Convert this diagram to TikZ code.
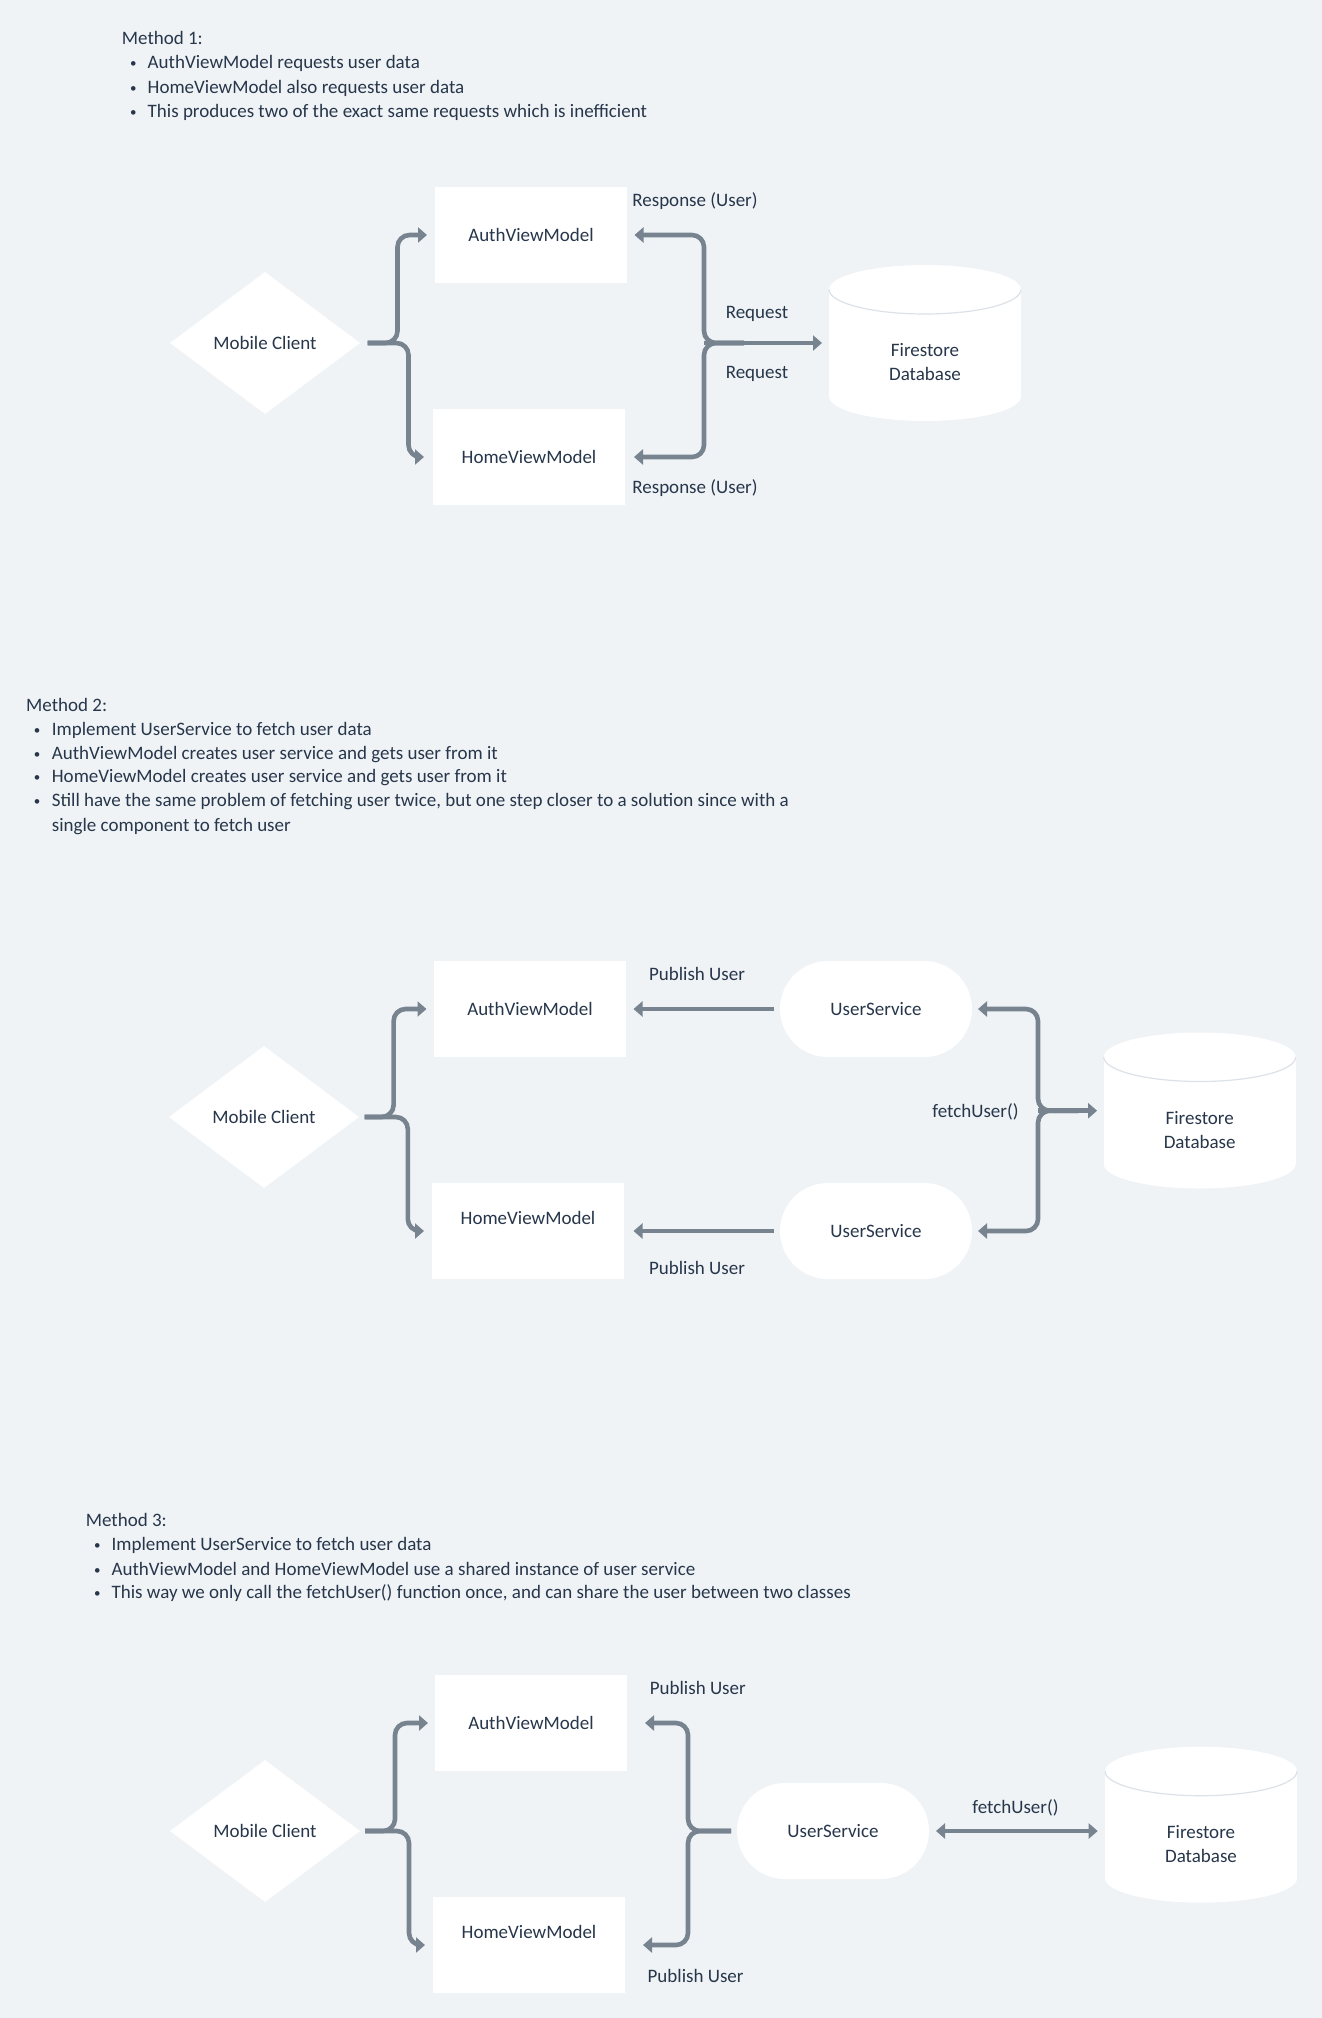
\documentclass[tikz,border=0pt]{standalone}
\usepackage{fontspec}
\setmainfont{Carlito}
\usetikzlibrary{arrows.meta,shapes.geometric,calc}
\definecolor{bgc}{HTML}{EFF3F6}
\definecolor{arrc}{HTML}{77838F}
\definecolor{txtc}{HTML}{27364A}
\definecolor{dbedge}{HTML}{DCE2E8}
\newcommand\dbcyl[1]{%
  \fill[white] ($(#1.north west)+(0,-24.5)$) rectangle ($(#1.south east)+(0,24.5)$);
  \fill[white] ($(#1.north)+(0,-24.5)$) ellipse[x radius=96, y radius=24.5];
  \fill[white] ($(#1.south)+(0,24.5)$) ellipse[x radius=96, y radius=24.5];
  \draw[dbedge, line width=1.2pt] ($(#1.north)+(-96,-24.5)$) arc[start angle=180, end angle=360, x radius=96, y radius=24.5];
}
\newcommand\bul{{\fontsize{13}{13}\selectfont\textbullet}}
\begin{document}
\begin{tikzpicture}[x=1pt,y=1pt,
  every node/.style={font=\fontsize{19}{24.3}\selectfont, text=txtc},
  conn/.style={draw=arrc, line width=4.6pt, rounded corners=12pt},
  arr/.style={conn, -{Triangle[length=9pt,width=15pt]}},
  darr/.style={conn, {Triangle[length=9pt,width=15pt]}-{Triangle[length=9pt,width=15pt]}},
  box/.style={fill=white, minimum width=192pt, minimum height=96pt, inner sep=0pt, outer sep=0pt},
  svc/.style={box, rounded corners=47.9pt},
  dia/.style={shape=diamond, fill=white, minimum width=190pt, minimum height=142pt, inner sep=0pt, aspect=1.34, outer sep=0pt},
  dbnode/.style={minimum width=192pt, minimum height=156pt, inner sep=0pt, outer sep=0pt},
  lbl/.style={inner sep=0pt},
  txtline/.style={anchor=base west, inner sep=0pt},
  bline/.style={anchor=base west, inner sep=0pt, yshift=1pt},
  hometext/.style={text height=13pt, text depth=26pt},
]
\useasboundingbox (0,0) rectangle (1322,-2018);
\fill[bgc] (0,0) rectangle (1322,-2018);

% ---------------- Method 1 text ----------------
\node[txtline] (m1h) at (121.7,-45) {Method 1:};
\node[bline] (m1b1) at (130,-68.7) {\bul};
\node[txtline] (m1t1) at (147.5,-68.7) {AuthViewModel requests user data};
\node[bline] (m1b2) at (130,-93.3) {\bul};
\node[txtline] (m1t2) at (147.5,-93.3) {HomeViewModel also requests user data};
\node[bline] (m1b3) at (130,-117.7) {\bul};
\node[txtline] (m1t3) at (147.5,-117.7) {This produces two of the exact same requests which is inefficient};

% ---------------- Method 1 diagram ----------------
\node[box] (auth1) at (531,-235) {AuthViewModel};
\node[box] (home1) at (529,-457) {HomeViewModel};
\node[dia] (mc1) at (265,-343) {Mobile Client};
\node[dbnode] (db1) at (925,-343) {};
\dbcyl{db1}
\node[lbl, align=center] (db1t) at (925,-362) {Firestore\\Database};
\coordinate (j1) at (704,-343);

\draw[arr, shorten <=7.5pt, shorten >=8pt] (mc1.east) -- ++(37.5,0) |- (auth1.west);
\draw[arr, shorten <=7.5pt, shorten >=9pt] (mc1.east) -- ++(48.5,0) |- (home1.west);
\draw[arr, shorten >=7.5pt] ($(j1)+(40,0)$) -- (j1) |- (auth1.east);
\draw[arr, shorten >=9pt] ($(j1)+(40,0)$) -- (j1) |- (home1.east);
\draw[arr, shorten >=7pt] (j1) -- (db1.west);

\node[lbl] (r1a) at (695,-200.7) {Response (User)};
\node[lbl] (q1a) at (757,-314) {Request};
\node[lbl] (q1b) at (757,-374) {Request};
\node[lbl] (r1b) at (695,-488) {Response (User)};

% ---------------- Method 2 text ----------------
\node[txtline] (m2h) at (26,-711) {Method 2:};
\node[bline] (m2b1) at (33.6,-735) {\bul};
\node[txtline] (m2t1) at (51.7,-735) {Implement UserService to fetch user data};
\node[bline] (m2b2) at (33.6,-759) {\bul};
\node[txtline] (m2t2) at (51.7,-759) {AuthViewModel creates user service and gets user from it};
\node[bline] (m2b3) at (33.6,-782.7) {\bul};
\node[txtline] (m2t3) at (51.7,-782.7) {HomeViewModel creates user service and gets user from it};
\node[bline] (m2b4) at (33.6,-806.7) {\bul};
\node[txtline] (m2t4) at (51.7,-806.7) {Still have the same problem of fetching user twice, but one step closer to a solution since with a};
\node[txtline] (m2t5) at (51.7,-831) {single component to fetch user};

% ---------------- Method 2 diagram ----------------
\node[box] (auth2) at (530,-1009) {AuthViewModel};
\node[box, hometext] (home2) at (528,-1231) {HomeViewModel};
\node[svc] (us2a) at (876,-1009) {UserService};
\node[svc] (us2b) at (876,-1231) {UserService};
\node[dia] (mc2) at (264,-1117) {Mobile Client};
\node[dbnode] (db2) at (1199.7,-1110.5) {};
\dbcyl{db2}
\node[lbl, align=center] (db2t) at (1199.7,-1130) {Firestore\\Database};
\coordinate (j2) at (1038,-1110.7);

\draw[arr, shorten <=5.5pt, shorten >=7.5pt] (mc2.east) -- ++(34.6,0) |- (auth2.west);
\draw[arr, shorten <=5.5pt, shorten >=8pt] (mc2.east) -- ++(48.8,0) |- (home2.west);
\draw[arr, shorten <=6pt, shorten >=7.5pt] (us2a.west) -- (auth2.east);
\draw[arr, shorten <=6pt, shorten >=9.5pt] (us2b.west) -- (home2.east);
\draw[arr, shorten >=6pt] ($(j2)+(40,0)$) -- (j2) |- (us2a.east);
\draw[arr, shorten >=6pt] ($(j2)+(40,0)$) -- (j2) |- (us2b.east);
\draw[arr, shorten >=6.6pt] (j2) -- (j2 -| db2.west);

\node[lbl] (p2a) at (697,-974) {Publish User};
\node[lbl] (p2b) at (697,-1268) {Publish User};
\node[lbl] (f2) at (975.5,-1112) {fetchUser()};

% ---------------- Method 3 text ----------------
\node[txtline] (m3h) at (85.6,-1526) {Method 3:};
\node[bline] (m3b1) at (94,-1550.3) {\bul};
\node[txtline] (m3t1) at (111.4,-1550.3) {Implement UserService to fetch user data};
\node[bline] (m3b2) at (94,-1575) {\bul};
\node[txtline] (m3t2) at (111.4,-1575) {AuthViewModel and HomeViewModel use a shared instance of user service};
\node[bline] (m3b3) at (94,-1598.7) {\bul};
\node[txtline] (m3t3) at (111.4,-1598.7) {This way we only call the fetchUser() function once, and can share the user between two classes};

% ---------------- Method 3 diagram ----------------
\node[box] (auth3) at (531,-1723) {AuthViewModel};
\node[box, hometext] (home3) at (529,-1945) {HomeViewModel};
\node[svc] (us3) at (833,-1831) {UserService};
\node[dia] (mc3) at (265,-1831) {Mobile Client};
\node[dbnode] (db3) at (1201,-1824.7) {};
\dbcyl{db3}
\node[lbl, align=center] (db3t) at (1201,-1844) {Firestore\\Database};
\coordinate (j3) at (688,-1831);

\draw[arr, shorten <=5pt, shorten >=7pt] (mc3.east) -- ++(35,0) |- (auth3.west);
\draw[arr, shorten <=5pt, shorten >=8pt] (mc3.east) -- ++(49,0) |- (home3.west);
\draw[arr, shorten <=6pt, shorten >=18pt] (us3.west) -- (j3) |- (auth3.east);
\draw[arr, shorten <=6pt, shorten >=18pt] (us3.west) -- (j3) |- (home3.east);
\draw[darr, shorten <=7pt, shorten >=7.3pt] (us3.east) -- (us3.east -| db3.west);

\node[lbl] (p3a) at (697.8,-1687.7) {Publish User};
\node[lbl] (p3b) at (695.6,-1976) {Publish User};
\node[lbl] (f3) at (1015.5,-1807.7) {fetchUser()};
\end{tikzpicture}
\end{document}
